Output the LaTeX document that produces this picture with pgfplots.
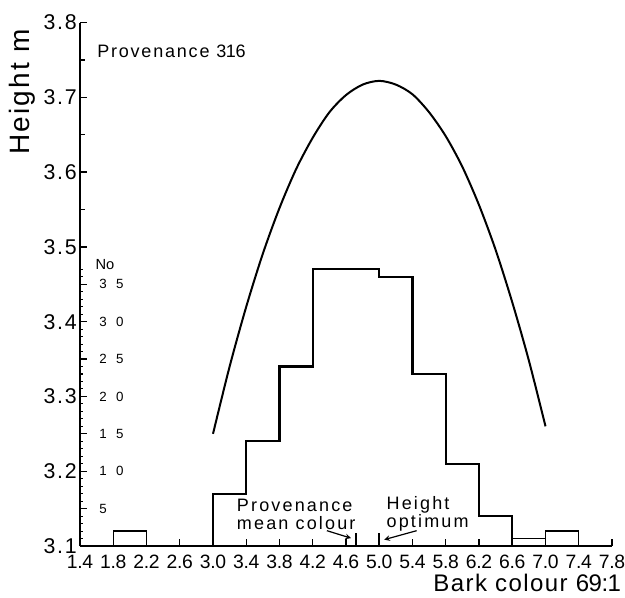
\documentclass[border=0pt]{standalone}
\usepackage{fontspec}
\setmainfont{Liberation Sans}
\newfontfamily\spc[LetterSpace=12]{Liberation Sans}
\newfontfamily\spcmid[LetterSpace=10]{Liberation Sans}
\newfontfamily\spcbig[LetterSpace=8]{Liberation Sans}
\newfontfamily\spclab[LetterSpace=6]{Liberation Sans}
\newfontfamily\spcnum[LetterSpace=70]{Liberation Sans}
\newfontfamily\tightnum[LetterSpace=-2]{Liberation Sans}
\newfontfamily\widenum[LetterSpace=8]{Liberation Sans}
\usepackage{pgfplots}
\pgfplotsset{compat=1.18}

% bin counts of the bark-colour classes (width 0.4)
\pgfplotstableread{
x   n
3.0 0
3.0 7
3.4 7
3.4 14
3.8 14
3.8 24
4.2 24
4.2 37
5.0 37
5.0 36
5.4 36
5.4 23
5.8 23
5.8 11
6.2 11
6.2 4
6.6 4
6.6 0
}\histmain

% fitted height response to bark colour
\pgfplotstableread{
x   h
3.0 3.250
3.2 3.340
3.4 3.420
3.6 3.491
3.8 3.552
4.0 3.604
4.2 3.646
4.4 3.680
4.6 3.703
4.8 3.717
5.0 3.722
5.2 3.717
5.4 3.704
5.6 3.680
5.8 3.648
6.0 3.607
6.2 3.556
6.4 3.496
6.6 3.426
6.8 3.348
7.0 3.260
}\heightcurve

\begin{document}
\begin{tikzpicture}
\useasboundingbox (-60pt,-38.25pt) rectangle (408.75pt,409.5pt);

% count scale (No) sharing the same box
\begin{axis}[
  at={(0,0)}, anchor=south west,
  scale only axis, width=399pt, height=392.6pt,
  xmin=1.4, xmax=7.8, ymin=0, ymax=70,
  enlargelimits=false, clip=false,
  axis x line=none,
  axis y line=left,
  y axis line style={draw=none},
  tick align=inside,
  ytick={5,10,...,35},
  minor ytick={1,2,...,37},
  major tick length=5.5pt, minor tick length=2.6pt,
  major tick style={line width=0.9pt, black},
  minor tick style={line width=0.8pt, black},
  /pgf/number format/assume math mode=true,
  yticklabel style={anchor=west, xshift=11pt, font=\spcnum\fontsize{10}{10}\selectfont},
]
\addplot[black, line width=1.6pt, line join=miter] table[x=x, y=n] {\histmain};
\addplot[black, line width=1.1pt] coordinates {(1.8,0) (1.8,2) (2.2,2) (2.2,0)};
\addplot[black, line width=1.1pt] coordinates {(6.6,1) (7.0,1)};
\addplot[black, line width=1.1pt] coordinates {(7.0,0) (7.0,2) (7.4,2) (7.4,0)};
\node[anchor=west, font=\fontsize{11}{11}\selectfont, inner sep=0pt]
  at (axis cs:1.4,37.6) [xshift=11.5pt] {No};
\end{axis}

% height scale
\begin{axis}[
  at={(0,0)}, anchor=south west,
  scale only axis, width=399pt, height=392.6pt,
  xmin=1.4, xmax=7.8, ymin=3.1, ymax=3.8,
  enlargelimits=false, clip=false,
  axis lines=left,
  axis line style={-, line width=1.5pt},
  tick align=inside,
  xtick={1.4,1.8,2.2,2.6,3.0,3.4,3.8,4.2,4.6,5.0,5.4,5.8,6.2,6.6,7.0,7.4,7.8},
  xticklabels={1.4,1.8,2.2,2.6,3.0,3.4,3.8,4.2,4.6,5.0,5.4,5.8,6.2,6.6,7.0,7.4,7.8},
  ytick={3.1,3.2,3.3,3.4,3.5,3.6,3.7,3.8},
  yticklabels={3.1,3.2,3.3,3.4,3.5,3.6,3.7,3.8},
  minor ytick={3.55,3.65,3.75},
  major tick length=5.5pt, minor tick length=4pt,
  major tick style={line width=1pt, black},
  minor tick style={line width=0.9pt, black},
  /pgf/number format/assume math mode=true,
  xticklabel style={font=\tightnum\fontsize{14.5}{14.5}\selectfont, yshift=-3.5pt},
  yticklabel style={font=\widenum\fontsize{16}{16}\selectfont, xshift=1pt},
]
\addplot[black, line width=1.5pt, smooth] table[x=x, y=h] {\heightcurve};

% mean colour and height optimum markers
\addplot[black, line width=1.3pt] coordinates {(4.72,3.1) (4.72,3.1177)};
\addplot[black, line width=1.3pt] coordinates {(5.0,3.1) (5.0,3.1177)};
\draw[-stealth, line width=0.9pt] (axis cs:4.37,3.1205) -- (axis cs:4.66,3.1105);
\draw[-stealth, line width=0.9pt] (axis cs:5.45,3.1205) -- (axis cs:5.06,3.1085);

\node[anchor=west, font=\spc\fontsize{13.5}{13.5}\selectfont, inner sep=0pt]
  at (axis cs:3.285,3.1547) {Provenance};
\node[anchor=west, font=\spc\fontsize{13.5}{13.5}\selectfont, inner sep=0pt]
  at (axis cs:3.285,3.1307) {mean colour};
\node[anchor=west, font=\spc\fontsize{13.5}{13.5}\selectfont, inner sep=0pt]
  at (axis cs:5.086,3.1547) {Height};
\node[anchor=west, font=\spc\fontsize{13.5}{13.5}\selectfont, inner sep=0pt]
  at (axis cs:5.086,3.1307) {optimum};

\node[anchor=base west, font=\spcmid\fontsize{13.5}{13.5}\selectfont, inner sep=0pt]
  at (axis cs:1.4,3.7527) [xshift=12.75pt] {Provenance {\tightnum 316}};
\node[xshift=-43.5pt, rotate=90, font=\spcbig\fontsize{21}{21}\selectfont, inner sep=0pt]
  at (axis cs:1.4,3.707) {Height m};
\node[anchor=base east, font=\spclab\fontsize{18}{18}\selectfont, inner sep=0pt]
  at (axis cs:7.8,3.1) [xshift=7pt, yshift=-34pt] {Bark colour {\tightnum 69:1}};
\end{axis}
\end{tikzpicture}
\end{document}
